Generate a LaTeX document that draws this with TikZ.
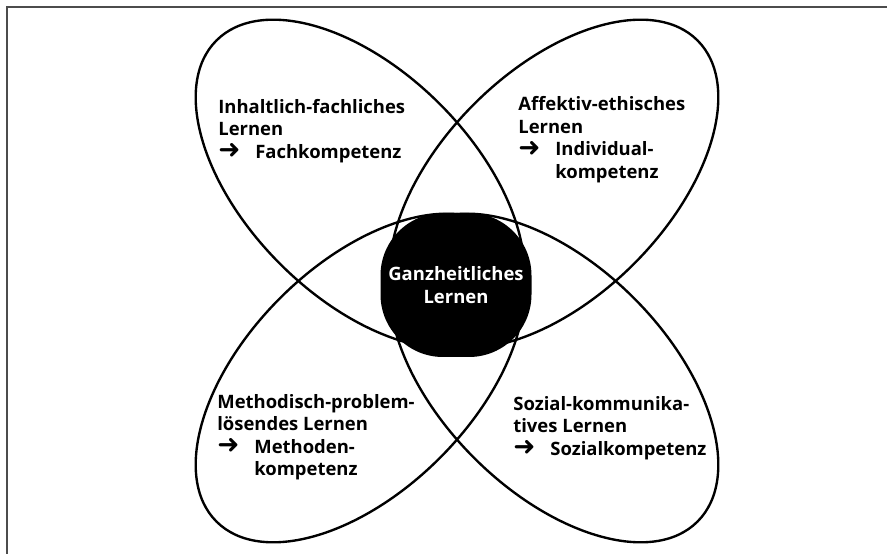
\documentclass[tikz,border=0pt]{standalone}
\usepackage{fontspec}
\setmainfont{Open Sans}
\newfontfamily\symfont{DejaVu Sans}
\usetikzlibrary{shapes.geometric, positioning}

\newcommand{\pfeil}{\makebox[0.74cm][l]{\smash{\raisebox{-0.3pt}{\symfont\fontsize{15}{15}\selectfont ➜}}}}

\begin{document}
\begin{tikzpicture}[
        every node/.style={font=\fontsize{10.5}{12.8}\selectfont\bfseries},
        blatt/.style={ellipse, draw, line width=1.35pt, minimum width=8.12cm, minimum height=4.52cm, inner sep=0pt},
        kern/.style={rectangle, fill=black, rounded corners=1.25cm, minimum width=3.02cm, minimum height=2.88cm},
        txt/.style={anchor=north west, align=left, inner sep=0pt},
        rahmen/.style={draw=black!70, line width=0.7pt}
    ]
        \useasboundingbox (0,0) rectangle (17.74,11.08);
        \draw[rahmen] (0.14,0) |- (17.74,10.94);

        % Mitte
        \node[kern] (mitte) at (9.12,5.38) {};

        % Ellipsen
        \node[blatt, rotate=-45] (fach) at (7.2,7.4) {};
        \node[blatt, rotate=45] (affekt) at (11.08,7.4) {};
        \node[blatt, rotate=45] (methode) at (7.2,3.52) {};
        \node[blatt, rotate=-45] (sozial) at (11.08,3.52) {};

        \node[align=center, text=white] (ganz) at (mitte) {Ganzheitliches\\Lernen};

        % Texte
        \node[txt] (tfach) at (4.36,9.1) {Inhaltlich-fachliches\\Lernen\\\pfeil Fachkompetenz};
        \node[txt] (taffekt) at (10.36,9.15) {Affektiv-ethisches\\Lernen\\\pfeil Individual-\\\hspace*{0.74cm}kompetenz};
        \node[txt] (tmethode) at (4.34,3.2) {Methodisch-problem-\\lösendes Lernen\\\pfeil Methoden-\\\hspace*{0.74cm}kompetenz};
        \node[txt] (tsozial) at (10.26,3.16) {Sozial-kommunika-\\tives Lernen\\\pfeil Sozialkompetenz};

    \end{tikzpicture}
\end{document}
